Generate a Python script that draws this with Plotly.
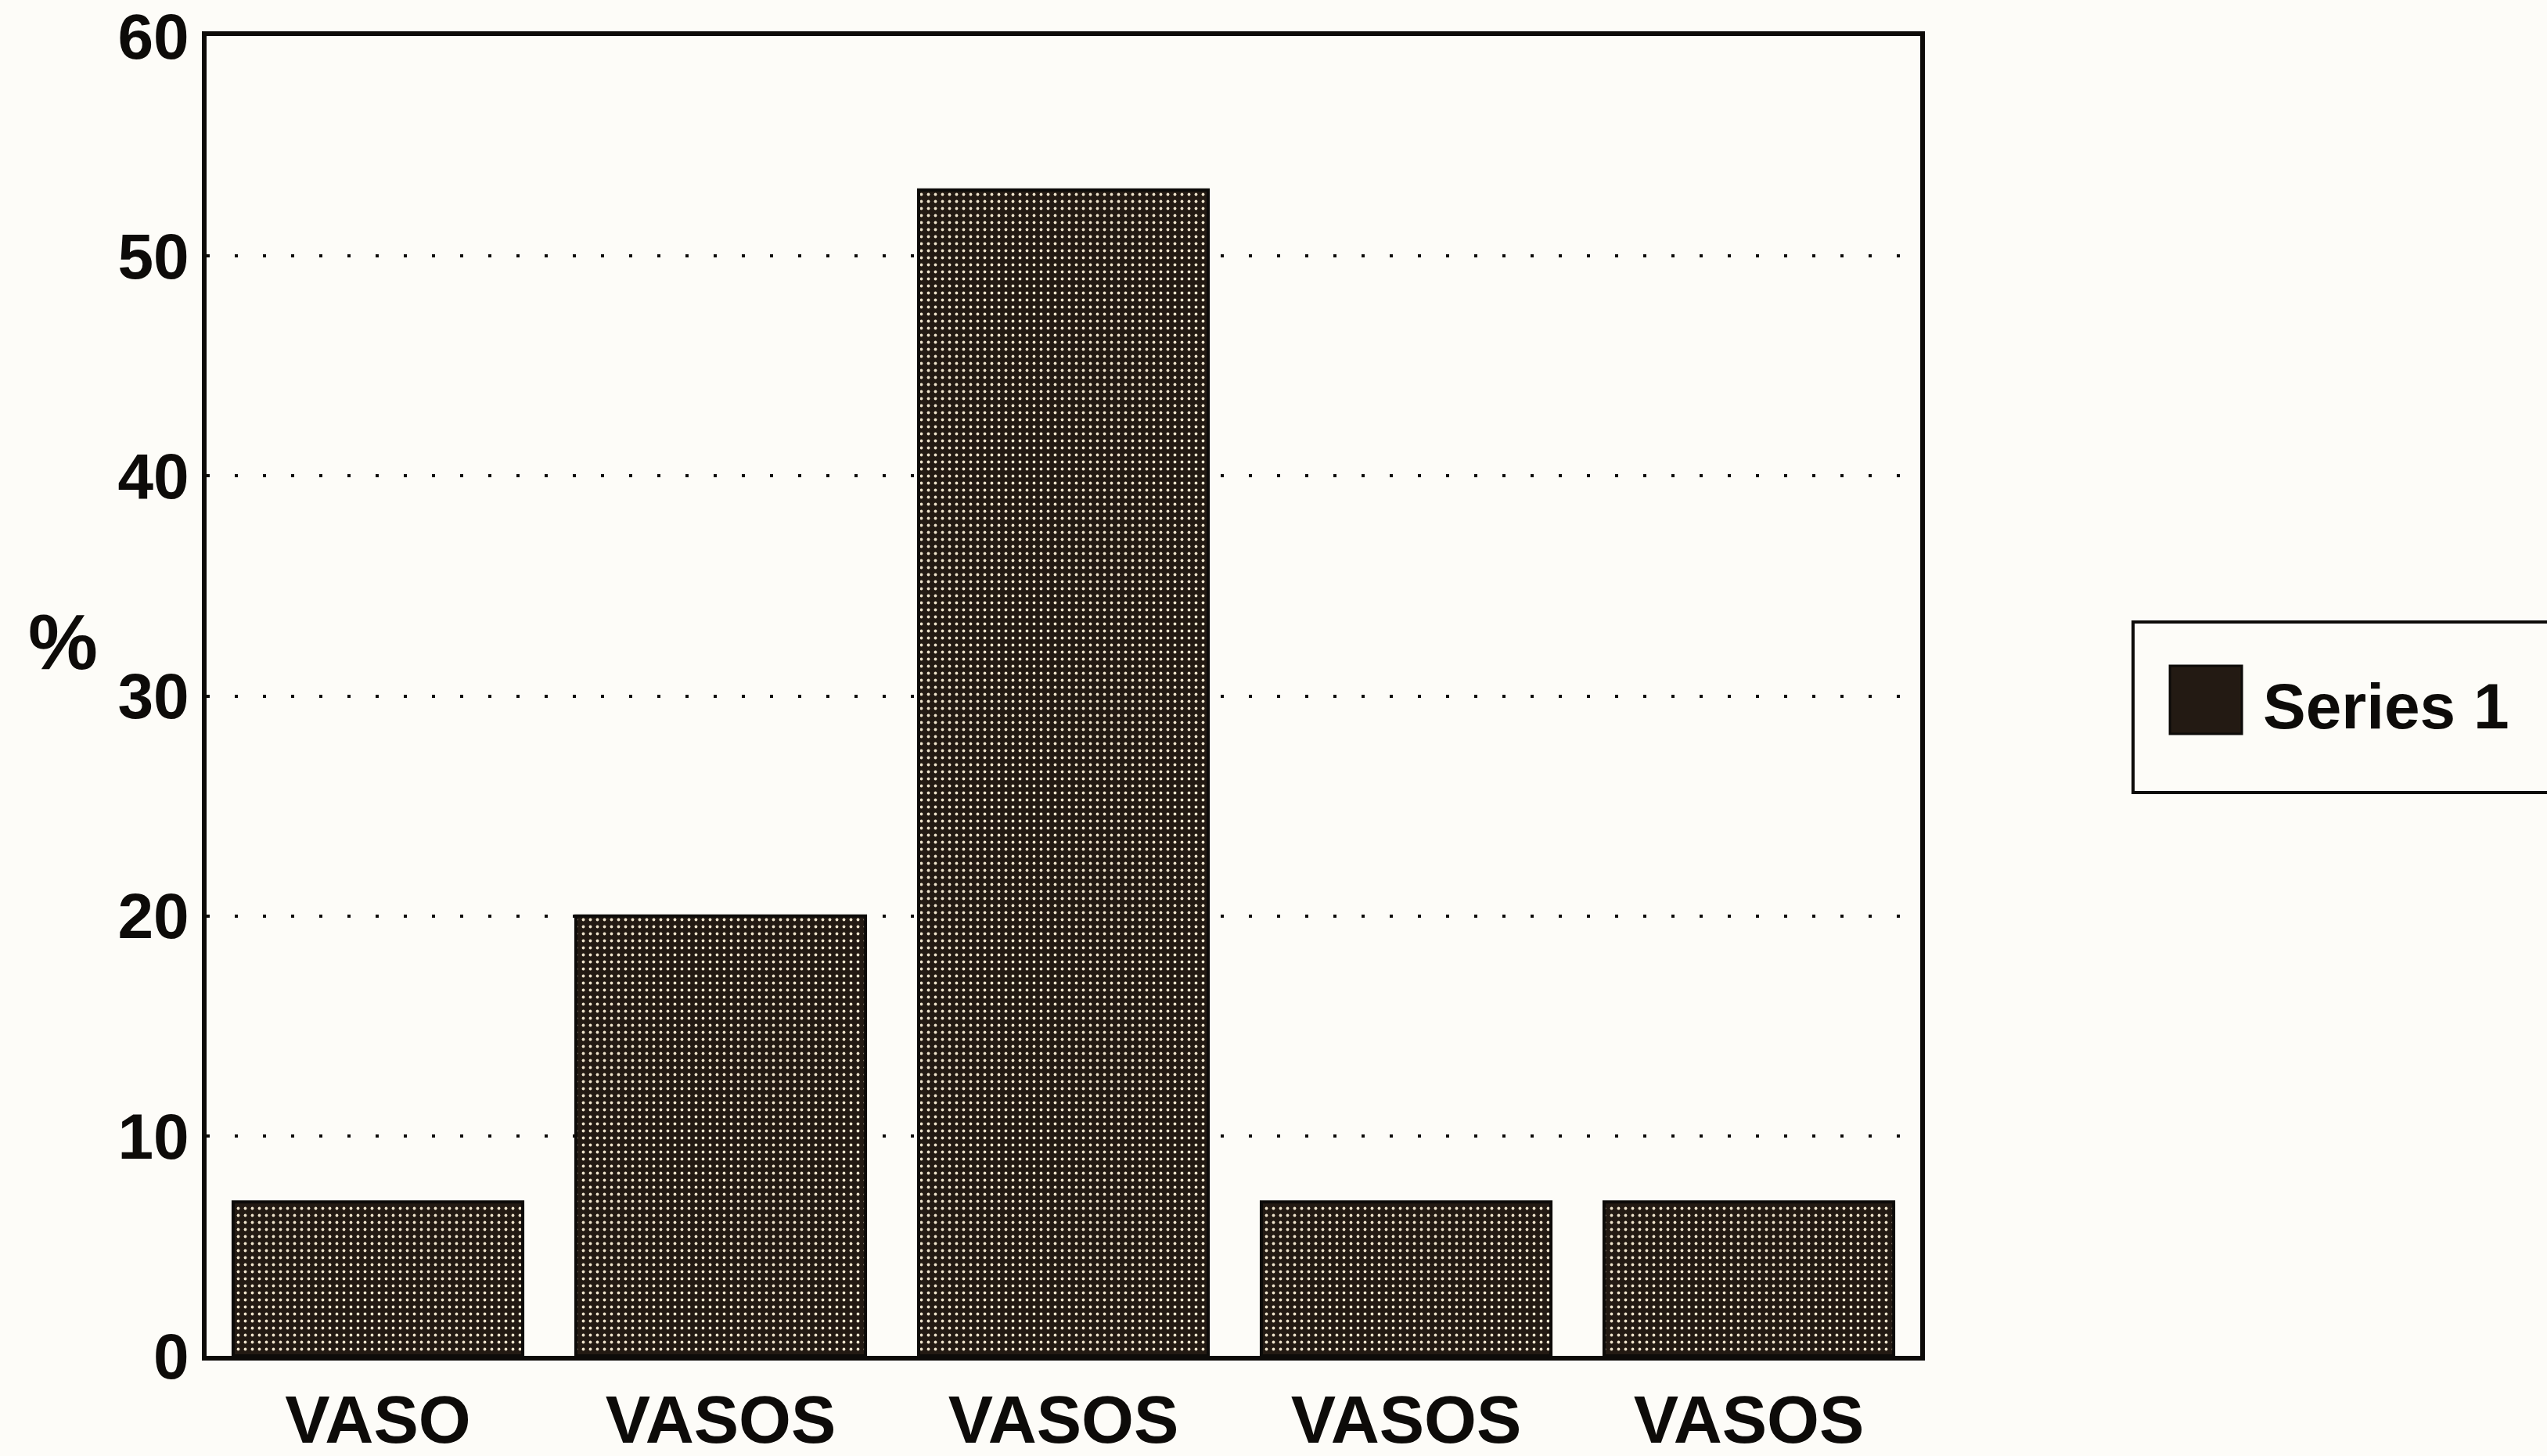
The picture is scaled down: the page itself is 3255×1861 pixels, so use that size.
import plotly.graph_objects as go

# Share of cases by vessel category
categories = ["VASO", "VASOS ", "VASOS  ", "VASOS   ", "VASOS    "]
tick_text = ["VASO", "VASOS", "VASOS", "VASOS", "VASOS"]
values = [7, 20, 53, 7, 7]
series_name = "Series 1"
y_ticks = [0, 10, 20, 30, 40, 50, 60]

BAR_DARK = "#231a13"
SPECKLE = "#efe4cc"
INK = "#0d0b09"
PAPER = "#fdfcf8"
FONT = "Liberation Sans"

fig = go.Figure()
fig.add_trace(go.Bar(
    x=categories,
    y=values,
    name=series_name,
    marker=dict(
        color=BAR_DARK,
        line=dict(color=INK, width=4),
        pattern=dict(shape=".", fgcolor=SPECKLE, bgcolor=BAR_DARK,
                     size=9, solidity=0.14, fillmode="replace"),
    ),
    showlegend=False,
))

fig.update_layout(
    width=3255, height=1861,
    margin=dict(l=264, r=801, t=46, b=128),
    paper_bgcolor=PAPER,
    plot_bgcolor=PAPER,
    bargap=0.155,
    font=dict(family=FONT, color=INK),
    showlegend=False,
)

fig.update_xaxes(
    tickmode="array",
    tickvals=categories,
    ticktext=tick_text,
    tickfont=dict(family=FONT, size=86, color=INK, weight="bold"),
    ticks="",
    showline=True, linecolor=INK, linewidth=6, mirror=True,
    showgrid=False,
    ticklabelstandoff=2,
    automargin=False,
)

fig.update_yaxes(
    range=[0, 60],
    tickmode="array",
    tickvals=y_ticks,
    tickfont=dict(family=FONT, size=82, color=INK, weight="bold"),
    ticks="",
    ticklabelstandoff=0,
    showline=True, linecolor=INK, linewidth=6, mirror=True,
    showgrid=True, gridcolor=INK, gridwidth=4, griddash="4px,32px",
    zeroline=False,
    automargin=False,
)

# Axis title "%" placed beside the value axis
fig.add_annotation(
    text="%", xref="paper", yref="paper", x=-0.084, y=0.541,
    showarrow=False, font=dict(family=FONT, size=100, color=INK, weight="bold"),
    xanchor="center", yanchor="middle",
)

# Legend box with swatch and label
fig.add_shape(type="rect", xref="paper", yref="paper",
              x0=1.1242, x1=1.37, y0=0.4268, y1=0.556,
              line=dict(color=INK, width=4), fillcolor=PAPER, layer="above")
fig.add_shape(type="rect", xref="paper", yref="paper",
              x0=1.1457, x1=1.1877, y0=0.4713, y1=0.5228,
              line=dict(color=INK, width=3), fillcolor=BAR_DARK, layer="above")
fig.add_annotation(
    text=series_name, xref="paper", yref="paper", x=1.199, y=0.492,
    showarrow=False, xanchor="left", yanchor="middle",
    font=dict(family=FONT, size=82, color=INK, weight="bold"),
)

fig.write_html("out.html")
